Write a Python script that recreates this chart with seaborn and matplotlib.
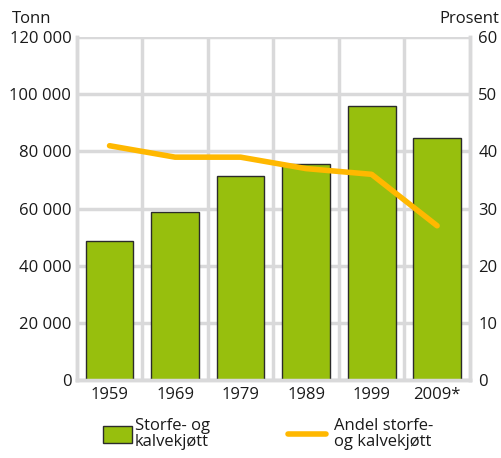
import numpy as np
import pandas as pd
import seaborn as sns
import matplotlib.pyplot as plt
from matplotlib.patches import Patch
from matplotlib.lines import Line2D
from matplotlib.ticker import FuncFormatter, MultipleLocator

# Data
years = ["1959", "1969", "1979", "1989", "1999", "2009*"]
tonn = [48600, 58800, 71500, 75600, 95800, 84600]
andel = [41, 39, 39, 37, 36, 27]

bar_color = "#97bf0d"
line_color = "#ffb800"
grid_color = "#d9d9da"

sns.set_style("white")
plt.rcParams["font.family"] = ["Open Sans", "DejaVu Sans"]
plt.rcParams["font.size"] = 12

df = pd.DataFrame({"year": years, "tonn": tonn, "andel": andel})

fig = plt.figure(figsize=(5.02, 4.58), dpi=100)
ax = fig.add_axes([0.153, 0.170, 0.783, 0.749])

sns.barplot(data=df, x="year", y="tonn", color=bar_color, width=0.73,
            edgecolor="#2b2b2b", linewidth=1, saturation=1, ax=ax, zorder=3)

ax2 = ax.twinx()
sns.pointplot(data=df, x="year", y="andel", color=line_color, markers="",
              linewidth=4, ax=ax2, zorder=4)

for a in (ax, ax2):
    a.set_xlim(-0.5, 5.5)
    a.set_xlabel("")
    a.set_ylabel("")

ax.set_ylim(0, 120000)
ax2.set_ylim(0, 60)
ax.yaxis.set_major_locator(MultipleLocator(20000))
ax2.yaxis.set_major_locator(MultipleLocator(10))
ax.yaxis.set_major_formatter(FuncFormatter(lambda v, p: f"{int(v):,}".replace(",", " ")))

ax.set_xticks(range(len(years)))
ax.set_xticklabels(years)
ax.set_xticks(np.arange(0.5, len(years) - 1, 1), minor=True)
ax.grid(axis="y", which="major", color=grid_color, linewidth=2.5, zorder=0)
ax.grid(axis="x", which="minor", color=grid_color, linewidth=2.5, zorder=0)
ax.grid(axis="x", which="major", visible=False)
ax.set_axisbelow(True)

ax.tick_params(axis="both", which="both", length=0, labelsize=12, colors="#1a1a1a")
ax.tick_params(axis="y", pad=4)
ax.tick_params(axis="x", pad=5)
ax2.tick_params(axis="y", length=0, labelsize=12, colors="#1a1a1a", pad=6)

for a in (ax, ax2):
    a.spines["top"].set_visible(False)
    for s in ["left", "right", "bottom"]:
        a.spines[s].set_color(grid_color)
        a.spines[s].set_linewidth(2.5)

fig.text(0.024, 0.940, "Tonn", fontsize=12, ha="left", va="bottom", color="#1a1a1a")
fig.text(0.994, 0.940, "Prosent", fontsize=12, ha="right", va="bottom", color="#1a1a1a")

h1 = Patch(facecolor=bar_color, edgecolor="#2b2b2b", linewidth=1)
h2 = Line2D([], [], color=line_color, linewidth=4)
leg1 = fig.legend([h1], ["Storfe- og\nkalvekjøtt"], loc="upper left", bbox_to_anchor=(0.189, 0.105),
                  frameon=False, fontsize=12, handlelength=1.75, handleheight=1.2,
                  handletextpad=0.15, labelspacing=0, borderpad=0)
leg2 = fig.legend([h2], ["Andel storfe-\nog kalvekjøtt"], loc="upper left", bbox_to_anchor=(0.558, 0.105),
                  frameon=False, fontsize=12, handlelength=2.25,
                  handletextpad=0.5, labelspacing=0, borderpad=0)
for leg in (leg1, leg2):
    for t in leg.get_texts():
        t.set_linespacing(0.95)
        t.set_color("#1a1a1a")

fig.savefig("out.png", dpi=100)
